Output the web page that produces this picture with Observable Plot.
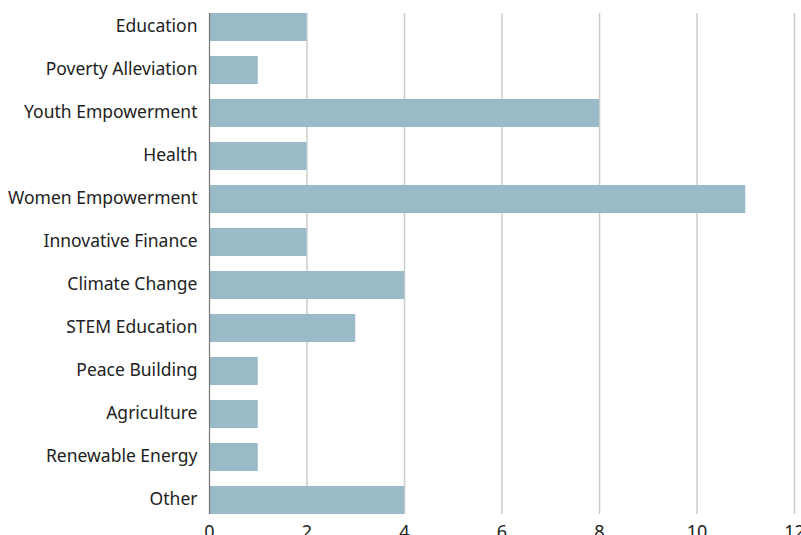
<!DOCTYPE html>
<html><head><meta charset="utf-8">
<script src="https://cdn.jsdelivr.net/npm/d3@7"></script>
<script src="https://cdn.jsdelivr.net/npm/@observablehq/plot@0.6"></script>
<style>body{margin:0;background:#fff;} svg{display:block;}</style>
</head><body><div id="chart"></div>
<script>
const categories = ["Education","Poverty Alleviation","Youth Empowerment","Health","Women Empowerment","Innovative Finance","Climate Change","STEM Education","Peace Building","Agriculture","Renewable Energy","Other"];
const counts = [2,1,8,2,11,2,4,3,1,1,1,4];
const xTicks = [0,2,4,6,8,10,12];
const data = categories.map((c,i)=>({category:c, count:counts[i]}));
const chart = Plot.plot({
  width: 801, height: 535,
  marginLeft: 209, marginRight: 7, marginTop: 13, marginBottom: 21,
  style: {fontFamily: "'Noto Sans', sans-serif", fontSize: "17.5px", color: "#222", background: "#fff"},
  x: {domain: [0,12], ticks: xTicks, label: null},
  y: {domain: categories, label: null, paddingInner: 0.35, paddingOuter: 0},
  marks: [
    Plot.gridX(xTicks.filter(d=>d>0), {stroke: "#cccccc", strokeOpacity: 1, strokeWidth: 1.5}),
    Plot.barX(data, {x: "count", y: "category", fill: "#99bbc7"}),
    Plot.ruleX([0], {stroke: "#777", strokeWidth: 1.2}),
    Plot.axisX({ticks: xTicks, tickSize: 0, tickPadding: 11, fontSize: 18}),
    Plot.axisY({tickSize: 0, tickPadding: 12, fontSize: 17.5, dy: -1})
  ]
});
document.getElementById("chart").append(chart);
</script></body></html>
